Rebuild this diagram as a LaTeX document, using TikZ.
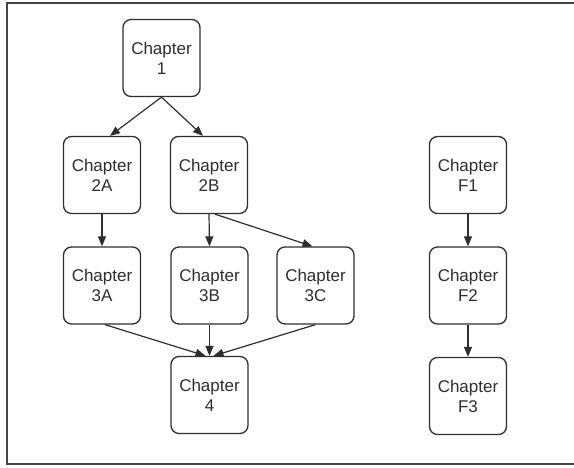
\documentclass[tikz,border=0pt]{standalone}
\usepackage{fontspec}
\setmainfont{Liberation Sans}
\usetikzlibrary{arrows.meta,calc}
\definecolor{ink}{HTML}{2E2E2E}
\tikzset{
  chap/.style={draw=ink, line width=1.3pt, rounded corners=8pt, minimum width=77pt, minimum height=77pt,
    inner sep=0pt, align=center, text=ink, font=\fontsize{17}{20}\selectfont},
  link/.style={draw=ink, line width=1.2pt, -{Triangle[length=10pt,width=8pt]}},
  frame/.style={draw=ink!90, line width=1.6pt}
}
\begin{document}
\begin{tikzpicture}[x=1pt,y=-1pt]
\useasboundingbox (0,0) rectangle (574,468);
\draw[frame] (7,3) rectangle (590,464);
\node[chap] (c1)  at (161.5,58)  {Chapter\\1};
\node[chap] (c2a) at (102,175)   {Chapter\\2A};
\node[chap] (c2b) at (209,175)   {Chapter\\2B};
\node[chap] (c3a) at (102,285.5) {Chapter\\3A};
\node[chap] (c3b) at (209.5,285.5) {Chapter\\3B};
\node[chap] (c3c) at (315.5,285.5) {Chapter\\3C};
\node[chap] (c4)  at (209.5,395) {Chapter\\4};
\node[chap] (f1)  at (468,175)   {Chapter\\F1};
\node[chap] (f2)  at (468,285.5) {Chapter\\F2};
\node[chap] (f3)  at (468,396)   {Chapter\\F3};
\draw[link] (c1.south) -- ($(c2a.north)+(8,0)$);
\draw[link] (c1.south) -- ($(c2b.north)+(-6,0)$);
\draw[link] (c2a.south) -- (c3a.north);
\draw[link] (c2b.south) -- (c3b.north);
\draw[link] ($(c2b.south)+(6,0)$) -- ($(c3c.north)+(-3,0)$);
\draw[link] ($(c3a.south)+(3,0)$) -- ($(c4.north)+(-4,0)$);
\draw[link] (c3b.south) -- (c4.north);
\draw[link] (c3c.south) -- ($(c4.north)+(4,0)$);
\draw[link] (f1.south) -- (f2.north);
\draw[link] (f2.south) -- (f3.north);
\end{tikzpicture}
\end{document}
